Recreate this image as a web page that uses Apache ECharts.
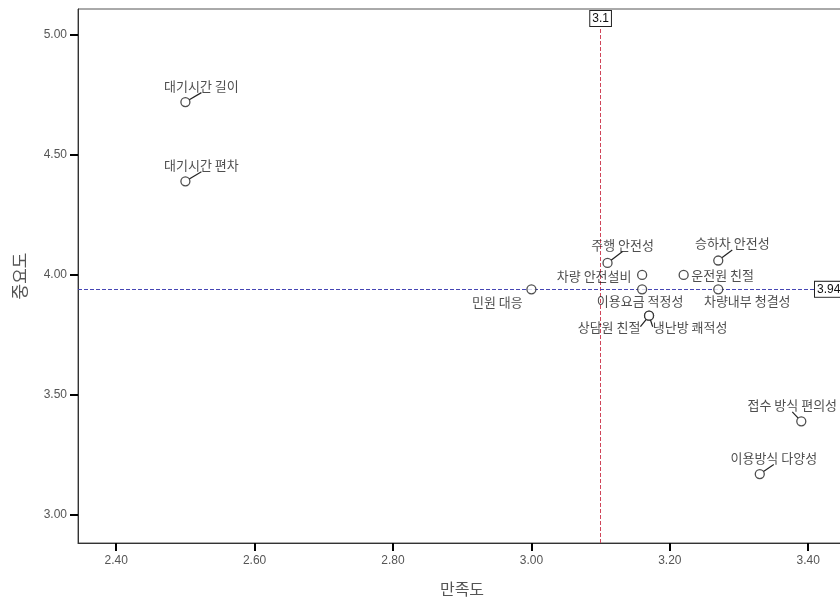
<!DOCTYPE html>
<html>
<head>
<meta charset="utf-8">
<script src="https://cdn.jsdelivr.net/npm/echarts@6/dist/echarts.min.js"></script>
<style>
  html, body { margin: 0; padding: 0; background: #fff; overflow: hidden; }
  /* plot frame runs past the right edge of the window */
  #chart { width: 846px; height: 597px; }
</style>
</head>
<body>
<div id="chart"></div>
<script>
// Service attributes: satisfaction (x) vs importance (y)
const itemNames = [
  '대기시간 길이', '대기시간 편차', '민원 대응', '주행 안전성', '차량 안전설비',
  '운전원 친절', '승하차 안전성', '이용요금 적정성', '차량내부 청결성',
  '상담원 친절', '냉난방 쾌적성', '접수 방식 편의성', '이용방식 다양성'
];
const satisfaction = [2.50, 2.50, 3.00, 3.11, 3.16, 3.22, 3.27, 3.16, 3.27, 3.17, 3.17, 3.39, 3.33];
const importance   = [4.72, 4.39, 3.94, 4.05, 4.00, 4.00, 4.06, 3.94, 3.94, 3.83, 3.83, 3.39, 3.17];

// Reference lines: mean satisfaction and mean importance
const meanSatisfaction = 3.1;
const meanImportance = 3.94;

// Tick labels
const xTicks = [2.40, 2.60, 2.80, 3.00, 3.20, 3.40];
const yTicks = [3.00, 3.50, 4.00, 4.50, 5.00];

// Label placement around each marker (label centre relative to marker centre, px)
const labelPlacement = {
  '대기시간 길이':   { dx: 16,  dy: -16, line: true },
  '대기시간 편차':   { dx: 16,  dy: -16, line: true },
  '민원 대응':       { dx: -34, dy: 13,  line: false },
  '주행 안전성':     { dx: 15,  dy: -18, line: true },
  '차량 안전설비':   { dx: -48, dy: 1,   line: false },
  '운전원 친절':     { dx: 39,  dy: 0,   line: false },
  '승하차 안전성':   { dx: 14,  dy: -17, line: true },
  '이용요금 적정성': { dx: -2,  dy: 12,  line: false },
  '차량내부 청결성': { dx: 29,  dy: 12,  line: false },
  '상담원 친절':     { dx: -40, dy: 11,  line: true },
  '냉난방 쾌적성':   { dx: 41,  dy: 11,  line: true },
  '접수 방식 편의성': { dx: -9,  dy: -16, line: true },
  '이용방식 다양성': { dx: 14,  dy: -16, line: true }
};

const points = itemNames.map((name, i) => ({
  name: name,
  value: [satisfaction[i], importance[i]],
  labelLine: { show: labelPlacement[name].line }
}));

const FONT = '"Noto Sans CJK KR", "DejaVu Sans", sans-serif';
const NUM_FONT = '"Liberation Sans", Arial, sans-serif';

const boxLabel = {
  fontFamily: NUM_FONT, fontSize: 12, color: '#111',
  backgroundColor: '#fff', borderColor: '#222', borderWidth: 1, padding: [2, 2, 1, 2]
};

const chart = echarts.init(document.getElementById('chart'), null, { renderer: 'canvas' });

chart.setOption({
  animation: false,
  backgroundColor: '#fff',
  grid: {
    left: 78, right: 0, top: 9, bottom: 54,
    outerBoundsMode: 'none',
    containLabel: false,
    show: true, borderColor: '#555', borderWidth: 1, backgroundColor: '#fff'
  },
  xAxis: {
    type: 'value',
    min: 2.3448, max: 3.4546,
    name: '만족도',
    nameLocation: 'middle',
    nameGap: 38,
    nameTextStyle: { fontFamily: FONT, fontSize: 16, color: '#555' },
    splitLine: { show: false },
    axisLine: { show: true, onZero: false, lineStyle: { color: '#333', width: 1 } },
    axisTick: { show: true, length: 8, customValues: xTicks, lineStyle: { color: '#000', width: 2 } },
    axisLabel: {
      customValues: xTicks, margin: 12,
      formatter: v => v.toFixed(2),
      fontFamily: NUM_FONT, fontSize: 12, color: '#555'
    }
  },
  yAxis: {
    type: 'value',
    min: 2.883, max: 5.108,
    name: '중요도',
    nameLocation: 'middle',
    nameRotate: 90,
    nameGap: 50,
    nameTextStyle: { fontFamily: FONT, fontSize: 17, color: '#555' },
    splitLine: { show: false },
    axisLine: { show: true, onZero: false, lineStyle: { color: '#333', width: 1 } },
    axisTick: { show: true, length: 8, customValues: yTicks, lineStyle: { color: '#000', width: 2 } },
    axisLabel: {
      customValues: yTicks, margin: 11,
      formatter: v => v.toFixed(2),
      fontFamily: NUM_FONT, fontSize: 12, color: '#555'
    }
  },
  series: [
    {
      // vertical reference line at mean satisfaction
      type: 'scatter',
      data: [],
      markLine: {
        silent: true, symbol: 'none', animation: false,
        lineStyle: { color: '#d0465a', type: [4, 2], width: 1 },
        label: Object.assign({ show: true, position: 'end', distance: -17, formatter: String(meanSatisfaction) }, boxLabel),
        data: [{ xAxis: meanSatisfaction }]
      }
    },
    {
      // horizontal reference line at mean importance
      type: 'scatter',
      data: [],
      markLine: {
        silent: true, symbol: 'none', animation: false,
        lineStyle: { color: '#4646b4', type: [4, 2], width: 1 },
        label: Object.assign({ show: true, position: 'end', distance: -31, formatter: meanImportance.toFixed(2) }, boxLabel),
        data: [{ yAxis: meanImportance }]
      }
    },
    {
      type: 'scatter',
      data: points,
      z: 5,
      symbol: 'circle',
      symbolSize: 9,
      itemStyle: { color: '#fff', borderColor: '#222', borderWidth: 1.3 },
      label: {
        show: true,
        position: 'inside',
        formatter: p => p.name,
        fontFamily: FONT, fontSize: 13, color: '#222'
      },
      labelLine: { show: true, lineStyle: { color: '#222', width: 1.2 } },
      labelLayout: params => {
        const pl = labelPlacement[itemNames[params.dataIndex]];
        return { dx: pl.dx, dy: pl.dy };
      }
    }
  ]
});
</script>
</body>
</html>
